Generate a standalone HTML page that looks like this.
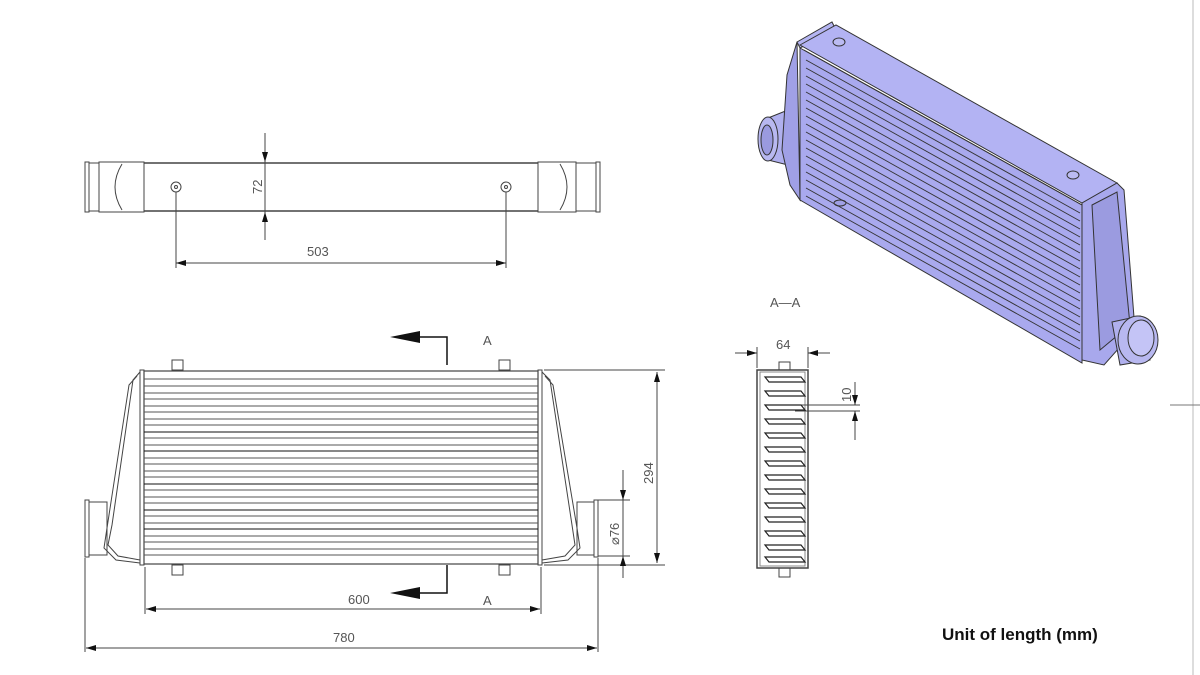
<!DOCTYPE html>
<html><head><meta charset="utf-8"><style>
html,body{margin:0;padding:0;background:#fff;}
svg{display:block;}
.t{font-family:"Liberation Sans Narrow","Liberation Sans",sans-serif;font-size:13px;fill:#555;}
</style></head><body>
<svg width="1200" height="675" viewBox="0 0 1200 675" xmlns="http://www.w3.org/2000/svg">
<defs>
<marker id="ar" viewBox="0 0 10 6" refX="10" refY="3" markerWidth="10" markerHeight="6" orient="auto-start-reverse" markerUnits="userSpaceOnUse"><path d="M0,0L10,3L0,6z" fill="#111"/></marker>
</defs>
<g stroke="#444" fill="none" stroke-width="1">
<!-- TOP VIEW -->
<rect x="85" y="162" width="4" height="50"/>
<rect x="89" y="163" width="10" height="48"/>
<rect x="99" y="162" width="45" height="50"/>
<path d="M122,164 Q108,187 122,210"/>
<line x1="144" y1="163" x2="538" y2="163" stroke-width="1.5"/>
<line x1="144" y1="211" x2="538" y2="211" stroke-width="1.5"/>
<rect x="538" y="162" width="38" height="50"/>
<path d="M560,164 Q574,187 560,210"/>
<rect x="576" y="163" width="20" height="48"/>
<rect x="596" y="162" width="4" height="50"/>
<circle cx="176" cy="187" r="5"/><circle cx="176" cy="187" r="1.5"/>
<circle cx="506" cy="187" r="5"/><circle cx="506" cy="187" r="1.5"/>
<line x1="265" y1="133" x2="265" y2="240"/>
<line x1="265" y1="140" x2="265" y2="162" marker-end="url(#ar)"/>
<line x1="265" y1="234" x2="265" y2="212" marker-end="url(#ar)"/>
<line x1="176" y1="192" x2="176" y2="268"/>
<line x1="506" y1="192" x2="506" y2="268"/>
<line x1="176" y1="263" x2="506" y2="263" marker-start="url(#ar)" marker-end="url(#ar)"/>
<!-- FRONT VIEW -->
<rect x="172" y="360" width="11" height="10"/><rect x="499" y="360" width="11" height="10"/>
<rect x="172" y="565" width="11" height="10"/><rect x="499" y="565" width="11" height="10"/>
<rect x="140" y="370" width="4" height="195"/>
<rect x="538" y="370" width="4" height="195"/>
<rect x="144" y="371" width="394" height="193" stroke-width="1.2"/>
<path d="M140,372 L133,380 L112,525 L108,545 L118,556 L140,560"/>
<path d="M137,376 L129,385 L107,528 L104,548 L116,560 L140,563"/>
<path d="M542,372 L550,380 L572,525 L575,545 L565,556 L542,560"/>
<path d="M545,376 L553,385 L577,528 L580,548 L568,560 L542,563"/>
<rect x="85" y="500" width="4" height="57"/><rect x="89" y="502" width="18" height="53"/>
<rect x="594" y="500" width="4" height="57"/><rect x="577" y="502" width="17" height="53"/>
<!-- dims -->
<line x1="544" y1="370" x2="665" y2="370"/><line x1="544" y1="565" x2="665" y2="565"/>
<line x1="657" y1="372" x2="657" y2="563" marker-start="url(#ar)" marker-end="url(#ar)"/>
<line x1="598" y1="500" x2="630" y2="500"/><line x1="598" y1="556" x2="630" y2="556"/>
<line x1="623" y1="470" x2="623" y2="500" marker-end="url(#ar)"/>
<line x1="623" y1="578" x2="623" y2="556" marker-end="url(#ar)"/>
<line x1="623" y1="500" x2="623" y2="556"/>
<line x1="145" y1="567" x2="145" y2="614"/><line x1="541" y1="567" x2="541" y2="614"/>
<line x1="146" y1="609" x2="540" y2="609" marker-start="url(#ar)" marker-end="url(#ar)"/>
<line x1="85" y1="558" x2="85" y2="652"/><line x1="598" y1="558" x2="598" y2="652"/>
<line x1="86" y1="648" x2="597" y2="648" marker-start="url(#ar)" marker-end="url(#ar)"/>
<path d="M447,365 L447,337 L420,337" stroke="#111" stroke-width="1.5"/>
<path d="M447,565 L447,593 L420,593" stroke="#111" stroke-width="1.5"/>
<!-- SECTION A-A -->
<rect x="757" y="370" width="51" height="198" stroke-width="1.5"/>
<rect x="760" y="372" width="45" height="194" stroke="#888"/>
<rect x="779" y="362" width="11" height="8"/><rect x="779" y="568" width="11" height="9"/>
<line x1="757" y1="347" x2="757" y2="368"/><line x1="808" y1="347" x2="808" y2="368"/>
<line x1="735" y1="353" x2="757" y2="353" marker-end="url(#ar)"/>
<line x1="830" y1="353" x2="808" y2="353" marker-end="url(#ar)"/>
<line x1="795" y1="405" x2="860" y2="405"/><line x1="795" y1="411" x2="860" y2="411"/>
<line x1="855" y1="382" x2="855" y2="405" marker-end="url(#ar)"/>
<line x1="855" y1="440" x2="855" y2="411" marker-end="url(#ar)"/>
<line x1="1193" y1="0" x2="1193" y2="675" stroke="#bbb"/>
<line x1="1170" y1="405" x2="1200" y2="405" stroke="#777"/>
</g>
<g stroke="#222" fill="none" stroke-width="1.2">
<path d="M765,377h36l4,5h-36z"/><path d="M765,391h36l4,5h-36z"/><path d="M765,405h36l4,5h-36z"/>
<path d="M765,419h36l4,5h-36z"/><path d="M765,433h36l4,5h-36z"/><path d="M765,447h36l4,5h-36z"/>
<path d="M765,461h36l4,5h-36z"/><path d="M765,475h36l4,5h-36z"/><path d="M765,489h36l4,5h-36z"/>
<path d="M765,503h36l4,5h-36z"/><path d="M765,517h36l4,5h-36z"/><path d="M765,531h36l4,5h-36z"/>
<path d="M765,545h36l4,5h-36z"/><path d="M765,557h36l4,5h-36z"/>
</g>
<g stroke="#555" stroke-width="1">
<line x1="144" y1="379" x2="538" y2="379"/><line x1="144" y1="386" x2="538" y2="386"/>
<line x1="144" y1="393" x2="538" y2="393"/><line x1="144" y1="399" x2="538" y2="399"/>
<line x1="144" y1="406" x2="538" y2="406"/><line x1="144" y1="412" x2="538" y2="412"/>
<line x1="144" y1="419" x2="538" y2="419"/><line x1="144" y1="425" x2="538" y2="425"/>
<line x1="144" y1="432" x2="538" y2="432" stroke="#111"/><line x1="144" y1="438" x2="538" y2="438"/>
<line x1="144" y1="445" x2="538" y2="445"/><line x1="144" y1="451" x2="538" y2="451" stroke="#111"/>
<line x1="144" y1="458" x2="538" y2="458"/><line x1="144" y1="464" x2="538" y2="464"/>
<line x1="144" y1="471" x2="538" y2="471"/><line x1="144" y1="477" x2="538" y2="477"/>
<line x1="144" y1="484" x2="538" y2="484" stroke="#111"/><line x1="144" y1="490" x2="538" y2="490"/>
<line x1="144" y1="497" x2="538" y2="497"/><line x1="144" y1="503" x2="538" y2="503"/>
<line x1="144" y1="510" x2="538" y2="510" stroke="#111"/><line x1="144" y1="516" x2="538" y2="516"/>
<line x1="144" y1="523" x2="538" y2="523"/><line x1="144" y1="529" x2="538" y2="529" stroke="#111"/>
<line x1="144" y1="536" x2="538" y2="536"/><line x1="144" y1="542" x2="538" y2="542"/>
<line x1="144" y1="549" x2="538" y2="549"/><line x1="144" y1="555" x2="538" y2="555"/>
</g>
<polygon points="390,337 420,331 420,343" fill="#111"/>
<polygon points="390,593 420,587 420,599" fill="#111"/>
<!-- ISOMETRIC -->
<g stroke="#333" stroke-width="1" fill="#aaaaee">
<polygon points="768,118 788,110 788,165 768,160" fill="#b0b0ee"/>
<ellipse cx="768" cy="139" rx="10" ry="22" fill="#b8b8f0"/>
<ellipse cx="767" cy="140" rx="6" ry="15" fill="#9a9adf"/>
<polygon points="797,42 832,22 836,30 800,48" fill="#b5b5f2"/>
<polygon points="797,42 787,75 782,150 790,185 800,200" fill="#a0a0e6"/>
<polygon points="800,45 836,25 1117,183 1082,203" fill="#b3b3f3"/>
<polygon points="800,48 1082,205 1082,363 800,200" fill="#a9a9ee"/>
<polygon points="1082,203 1117,183 1124,190 1135,330 1104,365 1082,360" fill="#a8a8ec"/>
<polygon points="1092,205 1117,192 1130,325 1100,350" fill="#9b9be0"/>
<polygon points="1112,322 1140,316 1150,360 1120,365" fill="#b0b0ee"/>
<ellipse cx="1138" cy="340" rx="20" ry="24" fill="#b8b8f0"/>
<ellipse cx="1141" cy="338" rx="13" ry="18" fill="#c4c4f6"/>
<ellipse cx="839" cy="42" rx="6" ry="4" fill="#bbbbf2"/>
<ellipse cx="1073" cy="175" rx="6" ry="4" fill="#bbbbf2"/>
<ellipse cx="840" cy="203" rx="6" ry="3" fill="#a0a0e6"/>
</g>
<g stroke="#333" stroke-width="0.9">
<line x1="806" y1="60" x2="1080" y2="213"/><line x1="806" y1="68" x2="1080" y2="221"/>
<line x1="806" y1="76" x2="1080" y2="229"/><line x1="806" y1="84" x2="1080" y2="237"/>
<line x1="806" y1="92" x2="1080" y2="245"/><line x1="806" y1="100" x2="1080" y2="253"/>
<line x1="806" y1="108" x2="1080" y2="261"/><line x1="806" y1="116" x2="1080" y2="269"/>
<line x1="806" y1="124" x2="1080" y2="277"/><line x1="806" y1="132" x2="1080" y2="285"/>
<line x1="806" y1="140" x2="1080" y2="293"/><line x1="806" y1="148" x2="1080" y2="301"/>
<line x1="806" y1="156" x2="1080" y2="309"/><line x1="806" y1="164" x2="1080" y2="317"/>
<line x1="806" y1="172" x2="1080" y2="325"/><line x1="806" y1="180" x2="1080" y2="333"/>
<line x1="806" y1="188" x2="1080" y2="341"/><line x1="806" y1="196" x2="1080" y2="349"/>
<line x1="804" y1="50" x2="1082" y2="205"/>
</g>
<text class="t" x="307" y="256">503</text>
<text class="t" transform="translate(262,194) rotate(-90)">72</text>
<text class="t" x="483" y="345">A</text>
<text class="t" x="483" y="605">A</text>
<text class="t" x="348" y="604">600</text>
<text class="t" x="333" y="642">780</text>
<text class="t" transform="translate(653,484) rotate(-90)">294</text>
<text class="t" transform="translate(619,545) rotate(-90)">⌀76</text>
<text class="t" x="770" y="307">A—A</text>
<text class="t" x="776" y="349">64</text>
<text class="t" transform="translate(851,402) rotate(-90)">10</text>
<text x="942" y="640" font-family="Liberation Sans, sans-serif" font-size="17" font-weight="bold" fill="#111">Unit of length (mm)</text>
</svg>
</body></html>
